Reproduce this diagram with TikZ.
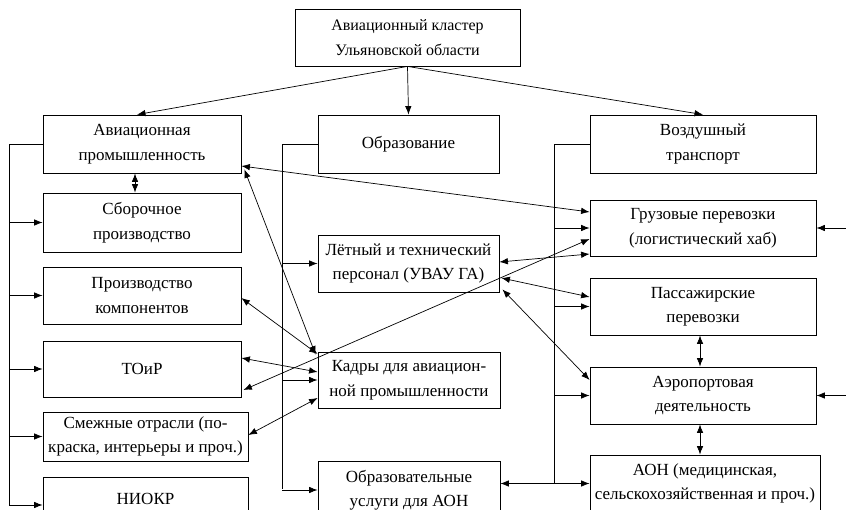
\documentclass[tikz,border=0pt]{standalone}
\usepackage{fontspec}
\setmainfont{Liberation Serif}
\usetikzlibrary{arrows.meta}
\begin{document}
\begin{tikzpicture}[x=1pt,y=-1pt,
  box/.style={draw, line width=0.8pt, inner sep=0pt, align=center,
    font=\fontsize{17}{24.5}\selectfont},
  arr/.style={line width=0.7pt, -{Latex[length=8.5pt,width=6.5pt]}},
  darr/.style={line width=0.7pt, {Latex[length=8.5pt,width=6.5pt]}-{Latex[length=8.5pt,width=6.5pt]}},
  bus/.style={line width=0.7pt}]
\path[use as bounding box, fill=white] (0,0) rectangle (846,510);
\clip (0,0) rectangle (846,510);
% boxes
\node[box, font=\fontsize{16}{25}\selectfont, minimum width=225pt, minimum height=57pt] (top) at (407.5,37.5) {Авиационный кластер\\Ульяновской области};
\node[box, minimum width=198pt, minimum height=58pt] (ap) at (142,144) {Авиационная\\промышленность};
\node[box, minimum width=198pt, minimum height=59pt] (sbor) at (142,222.5) {Сборочное\\производство};
\node[box, minimum width=198pt, minimum height=57pt] (komp) at (142,295.5) {Производство\\компонентов};
\node[box, minimum width=198pt, minimum height=56pt] (toir) at (142,369) {ТОиР};
\node[box, minimum width=205pt, minimum height=49pt] (smezh) at (145.5,436.5) {Смежные отрасли (по-\\краска, интерьеры и проч.)};
\node[box, minimum width=205pt, minimum height=44pt] (niokr) at (145.5,499) {НИОКР};
\node[box, minimum width=181pt, minimum height=58pt] (obr) at (408.5,144) {Образование};
\node[box, minimum width=181pt, minimum height=57pt] (let) at (408.5,263.5) {Лётный и технический\\персонал (УВАУ ГА)};
\node[box, minimum width=182pt, minimum height=56pt] (kadry) at (409,380) {Кадры для авиацион-\\ной промышленности};
\node[box, minimum width=182pt, minimum height=58pt] (obru) at (409,490) {Образовательные\\услуги для АОН};
\node[box, minimum width=226pt, minimum height=58pt] (vt) at (703,144) {Воздушный\\транспорт};
\node[box, minimum width=226pt, minimum height=56pt] (gruz) at (703,228) {Грузовые перевозки\\(логистический хаб)};
\node[box, minimum width=226pt, minimum height=57pt] (pass) at (703,306.5) {Пассажирские\\перевозки};
\node[box, minimum width=226pt, minimum height=57pt] (aero) at (703,395.5) {Аэропортовая\\деятельность};
\node[box, minimum width=230pt, minimum height=57pt] (aon) at (705,483.5) {АОН (медицинская,\\сельскохозяйственная и проч.)};
% buses
\coordinate (lbus) at (9,505);
\coordinate (mbus) at (282,489);
\coordinate (rbus) at (554,483.5);
\coordinate (redge) at (846,0);
\draw[bus] (ap.west) -| (lbus);
\draw[bus] (obr.west) -| (mbus);
\draw[bus] (vt.west) -| (rbus);
\foreach \n in {sbor,komp,toir,smezh} \draw[arr] (lbus |- \n.west) -- (\n.west);
\draw[arr] (lbus) -- (niokr.west |- lbus);
\foreach \n in {let,kadry,obru} \draw[arr] (mbus |- \n.west) -- (\n.west);
\foreach \n in {gruz,pass,aero} \draw[arr] (rbus |- \n.west) -- (\n.west);
% top
\draw[arr] (top.south) -- ([xshift=-5pt]ap.north);
\draw[arr] (top.south) -- (obr.north);
\draw[arr] (top.south) -- (vt.north);
% vertical double arrows
\draw[darr] ([xshift=-7pt]ap.south) -- ([xshift=-7pt]sbor.north);
\draw[darr] ([xshift=-3pt]pass.south) -- ([xshift=-3pt]aero.north);
\draw[darr] ([xshift=-3pt]aero.south) -- ([xshift=-5pt]aon.north);
% diagonal double arrows
\draw[darr] (ap.east |- 0,166) -- (gruz.west |- 0,212);
\draw[darr] ([shift={(3pt,4pt)}]ap.south east) -- ([shift={(-2pt,-3pt)}]kadry.north west);
\draw[darr] (komp.east |- 0,298) -- (kadry.west |- 0,354);
\draw[darr] (toir.east |- 0,358) -- (kadry.west |- 0,372);
\draw[darr] ([xshift=2pt]toir.east |- 0,390) -- (gruz.west |- 0,239);
\draw[darr] (smezh.east |- 0,435) -- (kadry.west |- 0,398);
\draw[darr] (let.east |- 0,262) -- (gruz.west |- 0,254);
\draw[darr] ([xshift=2pt]let.east |- 0,278) -- (pass.west |- 0,297);
\draw[darr] ([shift={(3pt,3pt)}]let.south east) -- (aero.west |- 0,380);
\draw[darr] (obru.east |- aon.west) -- (aon.west);
% from right edge
\draw[arr] (redge |- gruz.east) -- (gruz.east);
\draw[arr] (redge |- aero.east) -- (aero.east);
\end{tikzpicture}
\end{document}
